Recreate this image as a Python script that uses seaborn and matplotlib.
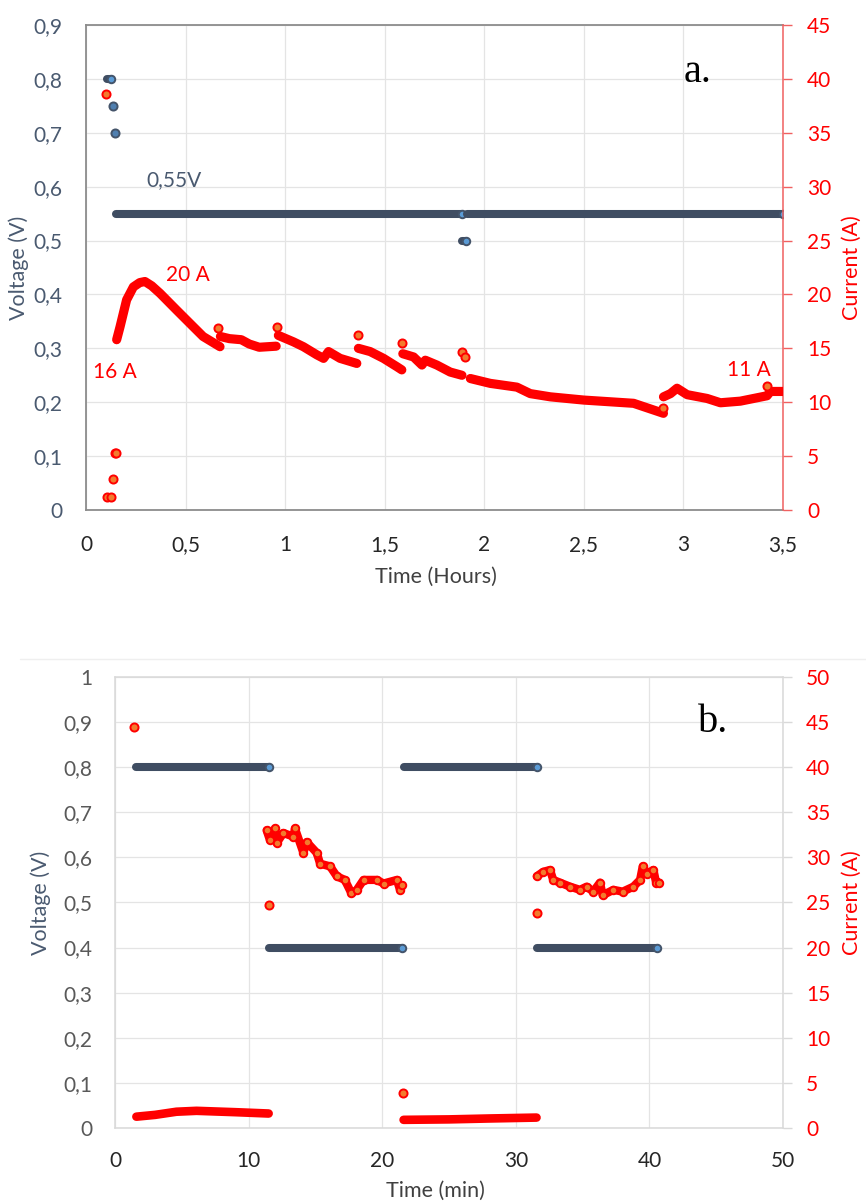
import numpy as np
import pandas as pd
import seaborn as sns
import matplotlib.pyplot as plt
from matplotlib.lines import Line2D

# ---------------- panel a: long run (hours) ----------------
# voltage plateaus: start time, end time, level
volt_a_start = [0.105, 0.150, 1.888, 1.915]
volt_a_end = [0.126, 1.890, 1.906, 3.500]
volt_a_level = [0.80, 0.55, 0.50, 0.55]
# single voltage readings during the ramp-down
volt_a_dot_t = [0.137, 0.146]
volt_a_dot_v = [0.75, 0.70]

# current trace, split where the set point was changed
cur_a_seg1_t = [0.154, 0.171, 0.204, 0.238, 0.270, 0.296, 0.330, 0.372, 0.455, 0.539, 0.588, 0.673]
cur_a_seg1_i = [15.8, 17.0, 19.5, 20.7, 21.1, 21.2, 20.8, 20.1, 18.55, 17.0, 16.1, 15.15]
cur_a_seg2_t = [0.675, 0.720, 0.780, 0.820, 0.870, 0.955]
cur_a_seg2_i = [16.1, 15.9, 15.8, 15.4, 15.1, 15.2]
cur_a_seg3_t = [0.966, 1.042, 1.092, 1.159, 1.193, 1.218, 1.276, 1.360]
cur_a_seg3_i = [16.2, 15.6, 15.15, 14.4, 14.07, 14.7, 14.07, 13.6]
cur_a_seg4_t = [1.368, 1.427, 1.494, 1.561, 1.586]
cur_a_seg4_i = [15.0, 14.7, 14.07, 13.3, 13.0]
cur_a_seg5_t = [1.591, 1.645, 1.687, 1.704, 1.762, 1.829, 1.888]
cur_a_seg5_i = [14.5, 14.2, 13.45, 13.9, 13.45, 12.8, 12.5]
cur_a_seg6_t = [1.930, 2.030, 2.164, 2.231, 2.332, 2.500, 2.750, 2.900]
cur_a_seg6_i = [12.2, 11.75, 11.4, 10.8, 10.5, 10.2, 9.9, 8.97]
cur_a_seg7_t = [2.900, 2.935, 2.968, 3.019, 3.119, 3.186, 3.286, 3.353, 3.420, 3.437, 3.500]
cur_a_seg7_i = [10.5, 10.8, 11.3, 10.7, 10.35, 9.95, 10.1, 10.35, 10.6, 11.0, 11.0]
# isolated current readings
cur_a_dot_t = [0.100, 0.108, 0.124, 0.137, 0.146, 0.152, 0.665, 0.958, 1.368, 1.586, 1.888, 1.905, 2.900, 3.420]
cur_a_dot_i = [38.6, 1.2, 1.2, 2.85, 5.26, 5.26, 16.9, 17.0, 16.2, 15.5, 14.7, 14.2, 9.5, 11.5]

a_xticks = [0, 0.5, 1, 1.5, 2, 2.5, 3, 3.5]
a_xticklabels = ["0", "0,5", "1", "1,5", "2", "2,5", "3", "3,5"]
a_vticks = [0, 0.1, 0.2, 0.3, 0.4, 0.5, 0.6, 0.7, 0.8, 0.9]
a_vticklabels = ["0", "0,1", "0,2", "0,3", "0,4", "0,5", "0,6", "0,7", "0,8", "0,9"]
a_iticks = [0, 5, 10, 15, 20, 25, 30, 35, 40, 45]

# ---------------- panel b: pulsed run (minutes) ----------------
volt_b_start = [1.6, 11.5, 21.6, 31.6]
volt_b_end = [11.5, 21.45, 31.55, 40.6]
volt_b_level = [0.80, 0.40, 0.80, 0.40]

cur_b_low1_t = [1.6, 3.0, 4.6, 6.1, 9.0, 11.5]
cur_b_low1_i = [1.25, 1.45, 1.8, 1.9, 1.75, 1.6]
cur_b_low2_t = [21.6, 25.0, 28.0, 31.55]
cur_b_low2_i = [0.9, 0.95, 1.05, 1.15]
cur_b_high1_t = [11.35, 11.6, 11.98, 12.1, 12.6, 13.35, 13.47, 14.1, 14.35, 15.1, 15.35,
                 16.1, 16.6, 17.2, 17.7, 18.1, 18.6, 19.6, 20.1, 21.1, 21.33, 21.46]
cur_b_high1_i = [33.0, 31.9, 33.2, 31.6, 32.7, 32.3, 33.2, 30.5, 31.7, 30.5, 29.3,
                 29.0, 27.9, 27.5, 26.0, 26.4, 27.5, 27.5, 27.1, 27.5, 26.4, 26.9]
cur_b_high2_t = [31.57, 32.05, 32.56, 32.8, 33.3, 34.06, 34.8, 35.3, 35.8, 36.3, 36.5,
                 37.3, 38.0, 38.8, 39.3, 39.5, 39.8, 40.3, 40.5, 40.75]
cur_b_high2_i = [27.9, 28.4, 28.6, 27.5, 27.2, 26.75, 26.4, 26.75, 26.2, 27.2, 25.8,
                 26.4, 26.2, 26.75, 27.5, 29.0, 28.2, 28.6, 27.2, 27.2]
cur_b_dot_t = [1.4, 11.5, 21.55, 31.56]
cur_b_dot_i = [44.5, 24.7, 3.85, 23.8]

b_xticks = [0, 10, 20, 30, 40, 50]
b_vticks = [0, 0.1, 0.2, 0.3, 0.4, 0.5, 0.6, 0.7, 0.8, 0.9, 1.0]
b_vticklabels = ["0", "0,1", "0,2", "0,3", "0,4", "0,5", "0,6", "0,7", "0,8", "0,9", "1"]
b_iticks = [0, 5, 10, 15, 20, 25, 30, 35, 40, 45, 50]

# ---------------- styling ----------------
sns.set_theme(style="white")
plt.rcParams['font.family'] = ['Lato', 'DejaVu Sans']

VOLT_LINE = '#3F4D62'
VOLT_FACE = '#5B9BD5'
VOLT_EDGE = '#44546A'
CUR_RED = '#FF0000'
CUR_FACE = '#F27B2E'
GRID = '#E4E4E4'
SLATE = '#4A5A70'
TICK_FS = 15
LAB_FS = 15.5

fig = plt.figure(figsize=(8.66, 12.02), dpi=100)
axA = fig.add_axes([0.0993, 0.5757, 0.8048, 0.4035])
axB = fig.add_axes([0.1328, 0.0616, 0.7714, 0.3752])


def band(ax, t, y, color, lw, face=None, edge=None, ms=0, every=None, z=3):
    df = pd.DataFrame({"t": t, "y": y})
    kw = {}
    if ms:
        kw = dict(marker='o', markersize=ms, markerfacecolor=face,
                  markeredgecolor=edge, markeredgewidth=1.4)
        if every is not None:
            kw['markevery'] = every
    sns.lineplot(data=df, x="t", y="y", ax=ax, color=color, linewidth=lw,
                 sort=False, estimator=None, legend=False,
                 solid_capstyle='round', zorder=z, **kw)


def dots(ax, t, y, face, edge, size=34, z=4):
    df = pd.DataFrame({"t": t, "y": y})
    sns.scatterplot(data=df, x="t", y="y", ax=ax, color=face, edgecolor=edge,
                    linewidth=1.4, s=size, legend=False, zorder=z)


def voltage_plateaus(ax, starts, ends, levels):
    # solid plateau with the last reading of each plateau highlighted
    for s, e, v in zip(starts, ends, levels):
        band(ax, [s, e], [v, v], VOLT_LINE, 5.8, VOLT_FACE, VOLT_EDGE, 5.4, every=[1])


# ---------------- panel a ----------------
axA2 = axA.twinx()
voltage_plateaus(axA, volt_a_start, volt_a_end, volt_a_level)
dots(axA, volt_a_dot_t, volt_a_dot_v, '#4F7FB0', VOLT_EDGE)

for t, i in [(cur_a_seg1_t, cur_a_seg1_i), (cur_a_seg2_t, cur_a_seg2_i),
             (cur_a_seg3_t, cur_a_seg3_i), (cur_a_seg4_t, cur_a_seg4_i),
             (cur_a_seg5_t, cur_a_seg5_i), (cur_a_seg6_t, cur_a_seg6_i),
             (cur_a_seg7_t, cur_a_seg7_i)]:
    band(axA2, t, i, CUR_RED, 6.6)
dots(axA2, cur_a_dot_t, cur_a_dot_i, CUR_FACE, CUR_RED)

axA.set_xlim(0, 3.5)
axA.set_ylim(0, 0.9)
axA2.set_ylim(0, 45)
axA.set_xticks(a_xticks, a_xticklabels)
axA.set_yticks(a_vticks, a_vticklabels)
axA2.set_yticks(a_iticks, [str(v) for v in a_iticks])

axA.grid(True, color=GRID, linewidth=0.9)
axA.set_axisbelow(True)
axA.tick_params(axis='x', length=0, pad=18, labelsize=TICK_FS, labelcolor='#262626')
axA.tick_params(axis='y', length=0, pad=17, labelsize=TICK_FS, labelcolor=SLATE)
axA2.tick_params(axis='y', length=6.5, width=1, direction='out', color='#F06060',
                 pad=11, labelsize=TICK_FS, labelcolor=CUR_RED)

for side in ['left', 'bottom', 'top']:
    axA.spines[side].set_color('#8C8C8C')
    axA.spines[side].set_linewidth(1.3)
    axA2.spines[side].set_visible(False)
axA.spines['right'].set_visible(False)
axA2.spines['right'].set_color('#F06060')
axA2.spines['right'].set_linewidth(1.1)

axA.set_xlabel("Time (Hours)", fontsize=LAB_FS, color='#404040')
axA.xaxis.set_label_coords(0.502, -0.118)
axA.set_ylabel("Voltage (V)", fontsize=LAB_FS, color=SLATE)
axA.yaxis.set_label_coords(-0.082, 0.5)
axA2.set_ylabel("Current (A)", fontsize=LAB_FS, color=CUR_RED)
axA2.yaxis.set_label_coords(1.085, 0.5)

axA.text(0.44, 0.612, "0,55V", fontsize=TICK_FS, color=SLATE, ha='center', va='center')
axA2.text(0.51, 21.8, "20 A", fontsize=TICK_FS, color=CUR_RED, ha='center', va='center')
axA2.text(0.146, 12.8, "16 A", fontsize=TICK_FS, color=CUR_RED, ha='center', va='center')
axA2.text(3.33, 13.0, "11 A", fontsize=TICK_FS, color=CUR_RED, ha='center', va='center')
axA.text(0.878, 0.903, "a.", transform=axA.transAxes, fontsize=29,
         family='Liberation Serif', color='black', ha='center', va='center')

# ---------------- panel b ----------------
axB2 = axB.twinx()
voltage_plateaus(axB, volt_b_start, volt_b_end, volt_b_level)

band(axB2, cur_b_low1_t, cur_b_low1_i, CUR_RED, 6.2)
band(axB2, cur_b_low2_t, cur_b_low2_i, CUR_RED, 6.2)
band(axB2, cur_b_high1_t, cur_b_high1_i, CUR_RED, 6.0, CUR_FACE, CUR_RED, 5.4)
band(axB2, cur_b_high2_t, cur_b_high2_i, CUR_RED, 6.0, CUR_FACE, CUR_RED, 5.4)
dots(axB2, cur_b_dot_t, cur_b_dot_i, CUR_FACE, CUR_RED)

axB.set_xlim(0, 50)
axB.set_ylim(0, 1.0)
axB2.set_ylim(0, 50)
axB.set_xticks(b_xticks, [str(v) for v in b_xticks])
axB.set_yticks(b_vticks, b_vticklabels)
axB2.set_yticks(b_iticks, [str(v) for v in b_iticks])

axB.grid(True, color=GRID, linewidth=0.9)
axB.set_axisbelow(True)
axB.tick_params(axis='x', length=0, pad=16.5, labelsize=TICK_FS, labelcolor='#262626')
axB.tick_params(axis='y', length=0, pad=16.5, labelsize=TICK_FS, labelcolor='#595959')
axB2.tick_params(axis='y', length=6.5, width=1, direction='out', color='#D9D9D9',
                 pad=10, labelsize=TICK_FS, labelcolor=CUR_RED)

for side in ['left', 'bottom', 'top']:
    axB.spines[side].set_color('#D9D9D9')
    axB.spines[side].set_linewidth(1.1)
    axB2.spines[side].set_visible(False)
axB.spines['right'].set_visible(False)
axB2.spines['right'].set_color('#D9D9D9')
axB2.spines['right'].set_linewidth(1.1)

axB.set_xlabel("Time (min)", fontsize=LAB_FS, color='#404040')
axB.xaxis.set_label_coords(0.48, -0.118)
axB.set_ylabel("Voltage (V)", fontsize=LAB_FS, color=SLATE)
axB.yaxis.set_label_coords(-0.096, 0.5)
axB2.set_ylabel("Current (A)", fontsize=LAB_FS, color=CUR_RED)
axB2.yaxis.set_label_coords(1.088, 0.5)

axB.text(0.895, 0.90, "b.", transform=axB.transAxes, fontsize=29,
         family='Liberation Serif', color='black', ha='center', va='center')

# faint outer border of the lower chart area
fig.add_artist(Line2D([0.023, 1.0], [1 - 659 / 1202, 1 - 659 / 1202],
                      transform=fig.transFigure, color='#EFEFEF', linewidth=1))

fig.savefig("out.png", dpi=100)
